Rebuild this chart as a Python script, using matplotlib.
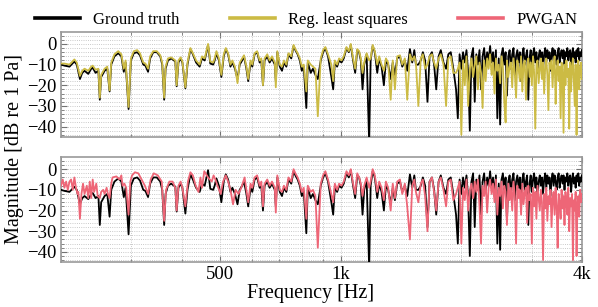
import numpy as np
import matplotlib
matplotlib.use('Agg')
import matplotlib.pyplot as plt
from matplotlib.ticker import FixedLocator, NullFormatter, MultipleLocator, LogLocator
from matplotlib.lines import Line2D

plt.rcParams['font.family'] = ['Liberation Serif', 'DejaVu Serif']
plt.rcParams['axes.unicode_minus'] = True

# ---------------- data (frequencies in Hz, magnitudes in dB) ----------------
gt_freq = [200, 204, 210, 216, 219, 223, 226, 229, 234, 238,
           240, 244, 248, 250, 252, 257, 261, 264.5, 267, 272,
           278, 283, 287, 290, 295, 299, 304, 310, 315, 321,
           325, 330, 334, 340, 347, 354, 358, 362, 365, 370,
           377, 386, 389, 393, 398, 402, 409, 414, 421, 427,
           435, 444, 450, 457, 466, 472, 480, 484, 489, 496,
           503, 510, 516, 523, 530, 536, 544, 552, 559, 567,
           573, 581, 587, 595, 601, 609, 618, 627, 633, 639,
           645, 655, 664, 673, 684, 688, 694, 704, 713, 721,
           731, 740, 752, 762, 770, 780, 790, 799, 808, 820,
           827, 841, 852, 864, 876, 891, 903, 915, 929, 947,
           957, 966, 979, 990, 1004, 1017, 1033, 1047, 1059, 1073,
           1086, 1099, 1111, 1122, 1133, 1144, 1160, 1177, 1187, 1201,
           1216, 1233, 1247, 1264, 1281, 1296, 1313, 1332, 1348, 1365,
           1383, 1405, 1424, 1445, 1465, 1488, 1508, 1526, 1540, 1562,
           1584, 1603, 1624, 1646, 1666, 1689, 1710, 1731, 1755, 1777,
           1805, 1832, 1856, 1882, 1910, 1940, 1960]

gt_low = [-10, -10.5, -11, -8.5, -10, -17, -14, -13, -14.5, -12,
          -11.5, -14, -13, -27, -16, -13, -12, -23, -10, -6,
          -4.5, -6, -13.5, -9, -31.5, -8, -4.5, -4, -5.5, -10,
          -10.5, -13.5, -7, -4, -4, -6, -10, -27, -12, -8,
          -7, -8.5, -20.5, -9, -7, -9, -21.5, -10, -2.5, -5,
          -9, -11, -7, -8, -0.5, -9.5, -10, -8, -4.5, -8,
          -16, -6, -2.5, -5, -11, -9, -12, -17, -10, -8,
          -6, -12, -18, -9, -11, -5, -4, -9, -8, -20,
          -8, -6, -9, -7, -10, -18, -4, -11, -13, -9,
          -11, -5, -7, -1, -3, -5, -8, -13, -11, -31,
          -9, -14, -12, -15, -17, -8, -4, -2, -6, -16,
          -22, -9, -11, -8, -9, -7, -2, -4, -0.5, -8,
          -14, -3, -4, -8, -22, -10, -5, -48, -8, -1,
          -4, -14, -7, -11, -20, -8, -10, -17, -9, -15,
          -7, -6, -11, -8, -13, -2.5, -9, -3, -10, -10,
          -8, -4, -8, -28, -6, -4, -10, -22, -6, -3,
          -9, -12, -5, -4, -12, -22, -36]

rls_low = [-9.5, -9.5, -10, -7.5, -9, -15.5, -13, -12, -13, -11,
           -10.5, -12.5, -12, -26, -15, -12, -11, -22.5, -9, -5,
           -3.5, -5, -12, -8, -30.5, -7, -3.5, -3, -4.5, -9,
           -9.5, -12, -6, -3.5, -3.5, -5.5, -9, -26, -11, -7,
           -6.5, -8, -20, -8, -6.5, -8.5, -21, -9, -2, -4.5,
           -8, -10, -6, -7, 0, -8.5, -9, -7, -3.5, -7,
           -15, -5, -2, -4.5, -10, -8, -11, -19, -9, -7,
           -5.5, -11, -17, -8, -10, -4.5, -3.5, -8, -7, -20,
           -7, -5, -8, -6, -9, -21, -3.5, -10, -11, -8,
           -10, -4.5, -6, -0.5, -2.5, -4.5, -7, -11, -10, -23,
           -8, -10, -11, -12, -35, -7, -3, -1.5, -5, -10,
           -18, -8, -10, -7, -8, -6, -1.5, -3.5, 0, -7,
           -12, -2.5, -3.5, -7, -14, -9, -4.5, -8, -7, -0.5,
           -3.5, -10, -6, -10, -13, -7, -9, -27, -8, -22,
           -6, -5.5, -10, -7, -27, -5, -8, -6, -9, -30,
           -7, -5, -12, -10, -6, -5, -9, -12, -7, -5,
           -10, -30, -7, -6, -14, -14, -12]

pw_freq = [200, 202, 204, 206, 208, 210, 212, 214, 216, 218,
           220, 221, 223, 225, 227, 229, 232, 234, 236, 238,
           240, 242, 245, 247, 250, 252, 255, 257, 260, 262,
           264.5, 267, 269, 275, 280, 283, 285, 288, 291, 295,
           298, 301, 306, 312, 318, 324, 330, 335, 341, 349,
           357, 362, 366, 373, 380, 386, 389, 393, 398, 402,
           409, 415, 421, 427, 434, 441, 446, 450, 456, 466,
           476, 481, 486, 492, 501, 508, 516, 523, 530, 538,
           546, 555, 564, 575, 581, 587, 595, 601, 609, 618,
           627, 633, 639, 645, 655, 664, 673, 684, 688, 694,
           704, 713, 721, 731, 740, 752, 762, 770, 780, 790,
           799, 808, 820, 827, 841, 852, 864, 876, 891, 903,
           915, 929, 947, 957, 966, 979, 990, 1004, 1017, 1033,
           1047, 1059, 1073, 1086, 1099, 1111, 1122, 1133, 1144, 1160,
           1177, 1187, 1201, 1216, 1233, 1247, 1264, 1281, 1296, 1313,
           1332, 1348, 1365, 1383, 1405, 1424, 1445, 1465, 1488, 1508,
           1526, 1540, 1562, 1584, 1603, 1624, 1646, 1666, 1689, 1710,
           1731, 1755, 1777, 1805, 1832, 1856, 1882, 1910, 1940, 1960]

pw_low = [-8, -5, -9, -6, -10, -6, -5, -10, -4, -9,
          -12, -11, -24, -12, -7, -12, -8, -14, -6, -14,
          -5, -11, -7, -13, -14, -11, -10, -12, -9, -12,
          -14, -7, -4, -3.5, -5, -3, -8, -7, -9, -22,
          -6, -3, -1.5, -2, -5, -8, -12, -5, -2, -3,
          -6, -25, -10, -6, -6, -9, -20, -8, -6, -9,
          -18, -6, -1.5, -3, -8, -11, -4, -9, -1, -4,
          -6, -3, -5, -8, -12, -6, -3, -6, -10, -17,
          -10, -12, -9, -4, -10, -16, -7, -9, -4, -3,
          -8, -6, -18, -7, -5, -8, -6, -9, -21, -3,
          -10, -11, -8, -10, -4, -6, 0, -2, -4, -7,
          -11, -9, -24, -8, -11, -10, -13, -38, -7, -3,
          -1, -5, -12, -16, -7, -10, -7, -8, -6, -1,
          -3, 0, -7, -12, -2, -4, -7, -13, -8, -4,
          -9, -6, 0, -3, -11, -6, -9, -15, -6, -9,
          -20, -7, -14, -6, -5, -12, -7, -18, -34, -8,
          -5, -11, -16, -7, -5, -13, -30, -6, -4, -11,
          -20, -6, -4, -10, -18, -6, -5, -15, -12, -9]

# dense high-frequency part, sampled every 20 Hz from 1980 Hz to 4000 Hz
hf_freq = np.arange(1980, 4001, 20)

gt_high = [-5, -12, -4, -9, -3, -14, -42, -6, -2, -28,
           -5, -10, -3, -22, -6, -2, -11, -4, -8, -1,
           -9, -4, -13, -3, -36, -7, -39, -5, -2, -10,
           -4, -25, -6, -3, -12, -5, -2, -15, -6, -3,
           -9, -4, -18, -5, -2, -10, -6, -3, -27, -7,
           -3, -11, -5, -2, -9, -4, -14, -6, -3, -8,
           -4, -12, -5, -2, -9, -3, -7, -4, -13, -5,
           -2, -8, -3, -6, -10, -4, -2, -9, -5, -3,
           -7, -3, -10, -4, -6, -2, -8, -4, -3, -11,
           -5, -2, -7, -4, -9, -3, -6, -2, -8, -4,
           -6, -3]

rls_high = [-9, -44, -8, -20, -6, -30, -12, -7, -16, -10,
            -6, -22, -9, -14, -31, -8, -18, -7, -12, -5,
            -15, -9, -24, -7, -13, -10, -19, -6, -11, -28,
            -38, -8, -16, -11, -9, -21, -7, -14, -26, -8,
            -12, -18, -6, -23, -10, -8, -27, -11, -7, -16,
            -9, -20, -6, -14, -41, -10, -8, -19, -12, -7,
            -17, -9, -24, -11, -7, -15, -32, -9, -12, -8,
            -21, -10, -6, -29, -13, -8, -18, -11, -36, -9,
            -14, -43, -10, -20, -8, -16, -12, -41, -9, -23,
            -11, -7, -19, -30, -10, -44, -13, -8, -22, -12,
            -9, -17]

pw_high = [-6, -36, -9, -15, -5, -20, -10, -7, -14, -6,
           -11, -5, -18, -36, -8, -13, -6, -21, -9, -5,
           -12, -7, -16, -5, -22, -9, -13, -6, -19, -8,
           -11, -27, -7, -15, -9, -20, -6, -13, -36, -8,
           -14, -10, -22, -7, -17, -11, -9, -26, -8, -15,
           -12, -36, -9, -18, -11, -24, -8, -14, -20, -10,
           -16, -44, -12, -19, -9, -25, -13, -17, -10, -28,
           -14, -11, -22, -9, -18, -38, -12, -16, -24, -10,
           -19, -13, -27, -11, -16, -22, -9, -30, -14, -18,
           -12, -44, -15, -20, -11, -42, -17, -13, -23, -10,
           -16, -12]

labels = ['Ground truth', 'Reg. least squares', 'PWGAN']
colors = ['#000000', '#CCBB44', '#EE6677']
xtick_vals = [500, 1000, 4000]
xtick_labels = ['500', '1k', '4k']
ytick_vals = [-40, -30, -20, -10, 0]

# ---------------- assemble ----------------
gt_f = np.concatenate([gt_freq, hf_freq]); gt_v = np.concatenate([gt_low, gt_high])
rls_f = np.concatenate([gt_freq, hf_freq]); rls_v = np.concatenate([rls_low, rls_high])
pw_f = np.concatenate([pw_freq, hf_freq]); pw_v = np.concatenate([pw_low, pw_high])

fig = plt.figure(figsize=(5.98, 3.07), dpi=100)
ax1 = fig.add_axes([0.102, 0.554, 0.871, 0.342])
ax2 = fig.add_axes([0.102, 0.146, 0.871, 0.342], sharex=ax1)

ax1.plot(gt_f, gt_v, color=colors[0], lw=1.3, zorder=3)
ax1.plot(rls_f, rls_v, color=colors[1], lw=1.3, zorder=4)
ax2.plot(gt_f, gt_v, color=colors[0], lw=1.3, zorder=3)
ax2.plot(pw_f, pw_v, color=colors[2], lw=1.3, zorder=4)

for ax in (ax1, ax2):
    ax.set_xscale('log')
    ax.set_xlim(200, 4000)
    ax.set_ylim(-45, 5.8)
    ax.yaxis.set_major_locator(FixedLocator(ytick_vals))
    ax.yaxis.set_minor_locator(MultipleLocator(2))
    ax.xaxis.set_major_locator(FixedLocator(xtick_vals))
    ax.xaxis.set_minor_locator(LogLocator(base=10, subs=np.arange(2, 10)))
    ax.xaxis.set_minor_formatter(NullFormatter())
    ax.grid(True, which='both', linestyle=':', color='0.72', lw=0.6, zorder=0)
    ax.tick_params(which='both', direction='in', top=True, right=True,
                   color='0.45', labelsize=13.5, pad=3)
    ax.tick_params(which='major', length=4, width=0.8)
    ax.tick_params(which='minor', length=2, width=0.6)
    for s in ax.spines.values():
        s.set_color('0.6')
        s.set_linewidth(1.2)

ax2.set_xticklabels(xtick_labels)
ax1.tick_params(labelbottom=False)
ax2.set_xlabel('Frequency [Hz]', fontsize=14.5)
ax2.xaxis.set_label_coords(0.48, -0.21)
fig.text(0.024, 0.515, 'Magnitude [dB re 1 Pa]', rotation=90,
         va='center', ha='center', fontsize=14.5)

handles = [Line2D([], [], color=c, lw=2.6) for c in colors]
fig.legend(handles, labels, loc='upper center', bbox_to_anchor=(0.512, 1.01),
           ncol=3, frameon=False, fontsize=12, handlelength=2.7,
           columnspacing=3.0, handletextpad=0.8)

fig.savefig('out.png', dpi=100)
